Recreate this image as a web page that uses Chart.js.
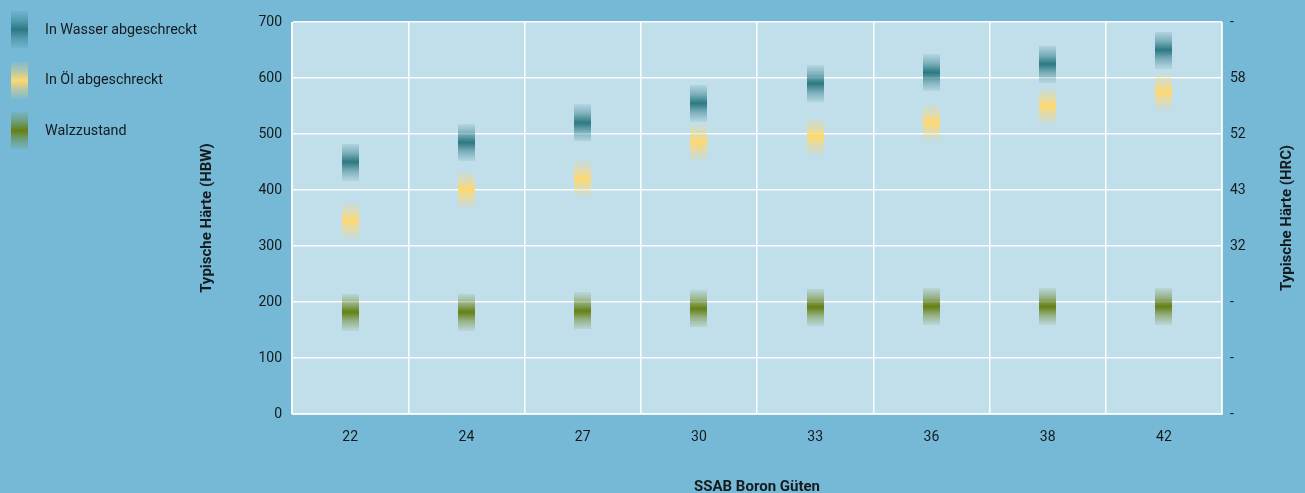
<!DOCTYPE html>
<html>
<head>
<meta charset="utf-8">
<script src="https://cdn.jsdelivr.net/npm/chart.js@4.4.0/dist/chart.umd.min.js"></script>
<style>
  html, body { margin: 0; padding: 0; background: #76b9d7; overflow: hidden; }
  #wrap { width: 1305px; height: 493px; }
</style>
</head>
<body>
<div id="wrap"><canvas id="hardnessChart"></canvas></div>
<script>
// Data
const grades = ['22', '24', '27', '30', '33', '36', '38', '42'];
const waterQuenched = [450, 485, 520, 555, 590, 610, 625, 650];
const oilQuenched = [345, 400, 420, 485, 495, 520, 550, 575];
const asRolled = [182, 182, 184, 188, 191, 192, 192, 192];
const hrcLabels = ['-', '-', '-', '32', '43', '52', '58', '-']; // at 0,100,...,700 HBW

const seriesNames = ['In Wasser abgeschreckt', 'In Öl abgeschreckt', 'Walzzustand'];

Chart.defaults.font.family = 'Roboto';
Chart.defaults.color = '#151a1d';

// soft vertical bar marker with faded ends
function makeMarker(rgb) {
    const c = document.createElement('canvas');
    c.width = 17;
    c.height = 37;
    const g = c.getContext('2d');
    const grad = g.createLinearGradient(0, 0, 0, 37);
    grad.addColorStop(0, 'rgba(' + rgb + ',0.08)');
    grad.addColorStop(0.25, 'rgba(' + rgb + ',0.45)');
    grad.addColorStop(0.5, 'rgba(' + rgb + ',1)');
    grad.addColorStop(0.75, 'rgba(' + rgb + ',0.45)');
    grad.addColorStop(1, 'rgba(' + rgb + ',0.08)');
    g.fillStyle = grad;
    g.fillRect(0, 0, 17, 37);
    return c;
}

const markers = [makeMarker('44,121,130'), makeMarker('253,216,112'), makeMarker('101,128,20')];

const backgroundPlugin = {
    id: 'backgrounds',
    beforeDraw(chart) {
        const {ctx, chartArea: a} = chart;
        ctx.save();
        ctx.fillStyle = '#76b9d7';
        ctx.fillRect(0, 0, chart.width, chart.height);
        ctx.fillStyle = '#c1deeb';
        ctx.fillRect(a.left, a.top, a.right - a.left, a.bottom - a.top);
        ctx.restore();
    }
};

const sideLegendPlugin = {
    id: 'sideLegend',
    afterDraw(chart) {
        const ctx = chart.ctx;
        ctx.save();
        ctx.font = '14.3px Roboto';
        ctx.fillStyle = '#151a1d';
        ctx.textBaseline = 'middle';
        chart.data.datasets.forEach((ds, i) => {
            const y = 29 + i * 50.5;
            ctx.drawImage(ds.pointStyle, 11, Math.round(y - 18));
            ctx.fillText(ds.label, 45, y + 1);
        });
        // right axis title, reading bottom to top
        const a = chart.chartArea;
        ctx.font = 'bold 15px Roboto';
        ctx.textAlign = 'center';
        ctx.translate(1287, (a.top + a.bottom) / 2);
        ctx.rotate(-Math.PI / 2);
        ctx.fillText('Typische Härte (HRC)', 0, 0);
        ctx.restore();
    }
};

const ctx = document.getElementById('hardnessChart').getContext('2d');
const hardnessChart = new Chart(ctx, {
    type: 'line',
    data: {
        labels: grades,
        datasets: [waterQuenched, oilQuenched, asRolled].map((values, i) => ({
            label: seriesNames[i],
            data: values,
            showLine: false,
            pointStyle: markers[i],
            pointRadius: 10,
            pointHoverRadius: 10,
            yAxisID: 'y'
        }))
    },
    options: {
        responsive: true,
        maintainAspectRatio: false,
        animation: false,
        devicePixelRatio: 1,
        events: [],
        layout: { padding: { left: 198, right: 0, top: 22, bottom: 0 } },
        plugins: {
            legend: { display: false },
            tooltip: { enabled: false }
        },
        scales: {
            x: {
                offset: true,
                grid: { offset: true, color: 'rgba(255,255,255,0.95)', lineWidth: 1.5, drawTicks: false },
                border: { color: 'rgba(255,255,255,0.7)' },
                ticks: { font: { size: 14 }, padding: 15 },
                title: {
                    display: true,
                    text: 'SSAB Boron Güten',
                    font: { size: 15, weight: 'bold' },
                    padding: { top: 0, bottom: -3 }
                },
                afterFit(scale) { scale.height = 79; }
            },
            y: {
                position: 'left',
                min: 0,
                max: 700,
                ticks: { stepSize: 100, font: { size: 14 }, padding: 10 },
                grid: { color: 'rgba(255,255,255,0.95)', lineWidth: 1.5, drawTicks: false },
                border: { color: 'rgba(255,255,255,0.7)' },
                title: {
                    display: true,
                    text: 'Typische Härte (HBW)',
                    font: { size: 15, weight: 'bold' },
                    padding: { top: 0, bottom: 0 }
                },
                afterFit(scale) { scale.width = 94; }
            },
            yHrc: {
                position: 'right',
                min: 0,
                max: 700,
                ticks: {
                    stepSize: 100,
                    font: { size: 14 },
                    padding: 8,
                    callback: (value) => hrcLabels[Math.round(value / 100)]
                },
                grid: { display: false, drawTicks: false },
                border: { color: 'rgba(255,255,255,0.7)' },
                afterFit(scale) { scale.width = 83; }
            }
        }
    },
    plugins: [backgroundPlugin, sideLegendPlugin]
});
</script>
</body>
</html>
